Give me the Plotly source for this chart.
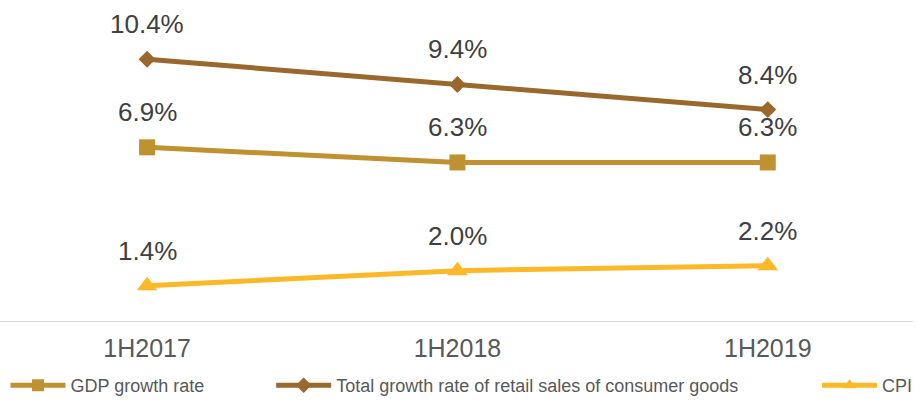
import plotly.graph_objects as go

periods = ["1H2017", "1H2018", "1H2019"]
gdp_growth = [6.9, 6.3, 6.3]
retail_growth = [10.4, 9.4, 8.4]
cpi = [1.4, 2.0, 2.2]

series = [
    ("GDP growth rate", gdp_growth, "#BF9130", "square", 16, "legend", 0.006),
    ("Total growth rate of retail sales of consumer goods", retail_growth, "#9A672C", "diamond", 13, "legend2", 0.297),
    ("CPI", cpi, "#FDB827", "triangle-up", 18, "legend3", 0.895),
]

FONT = "Liberation Sans, Arial, sans-serif"

fig = go.Figure()
annotations = []
legends = {}
for name, vals, color, symbol, size, leg, lx in series:
    fig.add_trace(go.Scatter(
        x=periods, y=vals, name=name, mode="lines+markers",
        line=dict(color=color, width=5),
        marker=dict(symbol=symbol, size=size, color=color),
        legend=leg,
    ))
    # value label above each point
    for p, v in zip(periods, vals):
        annotations.append(dict(
            x=p, y=v, text=f"{v:.1f}%", showarrow=False, yshift=35,
            font=dict(family=FONT, size=26, color="#404040"),
        ))
    # one single-entry legend per series so each sits at its own spot
    legends[leg] = dict(
        x=lx, y=-0.214, xanchor="left", yanchor="middle",
        orientation="h", itemwidth=55, itemsizing="constant",
        bgcolor="rgba(0,0,0,0)",
        font=dict(family=FONT, size=18, color="#595959"),
        tracegroupgap=0,
    )

fig.update_layout(
    width=918, height=404,
    margin=dict(l=0, r=0, t=19, b=77),
    paper_bgcolor="white", plot_bgcolor="white",
    showlegend=True,
    annotations=annotations,
    **legends,
)
fig.update_xaxes(
    type="category", range=[-0.474, 2.468],
    showline=True, linecolor="#D9D9D9", linewidth=1,
    showgrid=False, zeroline=False, ticks="",
    ticklabelstandoff=5,
    tickfont=dict(family=FONT, size=25, color="#595959"),
)
fig.update_yaxes(range=[0, 12], visible=False, showgrid=False, zeroline=False)

fig.write_html("out.html")
